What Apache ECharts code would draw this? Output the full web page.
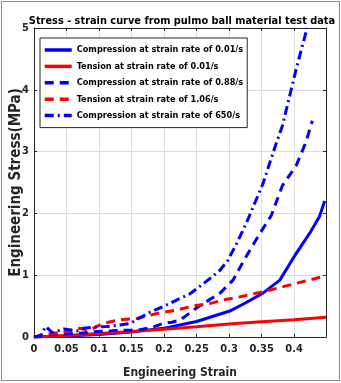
<!DOCTYPE html>
<html>
<head>
<meta charset="utf-8">
<script src="https://cdn.jsdelivr.net/npm/echarts@6/dist/echarts.min.js"></script>
<style>
  html, body { margin: 0; padding: 0; background: #fff; }
  #chart { position: absolute; left: 0; top: 0; width: 341px; height: 383px; }
  #frame { position: absolute; left: 1px; top: 1px; width: 337px; height: 378px; border: 1px solid #8c8c8c; pointer-events: none; }
</style>
</head>
<body>
<div id="chart"></div>
<div id="frame"></div>
<script>
const FONT = "'Liberation Sans Narrow', 'DejaVu Sans Condensed', 'Liberation Sans', sans-serif";

const seriesNames = [
  'Compression at strain rate of 0.01/s',
  'Tension at strain rate of 0.01/s',
  'Compression at strain rate of 0.88/s',
  'Tension at strain rate of 1.06/s',
  'Compression at strain rate of 650/s'
];

// compression, 0.01/s
const comp001Strain = [0, 0.05, 0.1, 0.15, 0.199, 0.25, 0.301, 0.325, 0.352, 0.378, 0.403, 0.424, 0.439, 0.447];
const comp001Stress = [0, 0.015, 0.04, 0.08, 0.14, 0.25, 0.42, 0.55, 0.71, 0.92, 1.35, 1.68, 1.95, 2.2];

// tension, 0.01/s
const tens001Strain = [0, 0.05, 0.1, 0.15, 0.2, 0.25, 0.3, 0.35, 0.4, 0.449];
const tens001Stress = [0, 0.025, 0.055, 0.09, 0.125, 0.165, 0.21, 0.245, 0.28, 0.32];

// compression, 0.88/s
const comp088Strain = [0, 0.02, 0.046, 0.07, 0.097, 0.12, 0.137, 0.158, 0.18, 0.199, 0.212, 0.224, 0.25, 0.286, 0.306, 0.326, 0.347, 0.365, 0.382, 0.403, 0.418, 0.428];
const comp088Stress = [0, 0.03, 0.05, 0.06, 0.09, 0.1, 0.11, 0.11, 0.15, 0.22, 0.24, 0.27, 0.47, 0.71, 0.92, 1.3, 1.67, 1.97, 2.45, 2.77, 3.15, 3.5];

// tension, 1.06/s
const tens106Strain = [0, 0.01, 0.03, 0.05, 0.07, 0.085, 0.106, 0.133, 0.158, 0.189, 0.221, 0.244, 0.27, 0.291, 0.317, 0.363, 0.4, 0.449];
const tens106Stress = [0, 0.03, 0.06, 0.09, 0.14, 0.11, 0.22, 0.28, 0.3, 0.38, 0.44, 0.5, 0.54, 0.6, 0.65, 0.76, 0.86, 0.99];

// compression, 650/s
const comp650Strain = [0, 0.01, 0.018, 0.028, 0.046, 0.066, 0.076, 0.092, 0.112, 0.128, 0.148, 0.161, 0.178, 0.2, 0.22, 0.24, 0.265, 0.286, 0.298, 0.311, 0.326, 0.352, 0.372, 0.382, 0.403, 0.42];
const comp650Stress = [0, 0.02, 0.17, 0.07, 0.13, 0.1, 0.14, 0.16, 0.17, 0.19, 0.22, 0.3, 0.4, 0.5, 0.6, 0.7, 0.9, 1.08, 1.24, 1.5, 1.83, 2.48, 3.12, 3.42, 4.33, 5.0];

const xTicks = [0, 0.05, 0.1, 0.15, 0.2, 0.25, 0.3, 0.35, 0.4];
const yTicks = [0, 1, 2, 3, 4, 5];

const pairs = (xs, ys) => xs.map((x, i) => [x, ys[i]]);

const makeLine = (name, data, color, type) => ({
  name: name,
  type: 'line',
  data: data,
  symbol: 'none',
  smooth: false,
  lineStyle: { color: color, width: 3, type: type },
  itemStyle: { color: color },
  emphasis: { disabled: true }
});

const labelStyle = { color: '#262626', fontFamily: FONT, fontWeight: 'bold', fontSize: 11 };

const chart = echarts.init(document.getElementById('chart'));

chart.setOption({
  animation: false,
  title: {
    text: 'Stress - strain curve from pulmo ball material test data',
    left: 177,
    textAlign: 'center',
    top: 11,
    textStyle: { color: '#000', fontFamily: FONT, fontWeight: 'bold', fontSize: 10.9 }
  },
  grid: { left: 34, right: 15, top: 28, bottom: 46, containLabel: false, outerBoundsMode: 'none' },
  legend: {
    orient: 'vertical',
    left: 40,
    top: 38,
    itemWidth: 27,
    itemHeight: 10,
    itemGap: 7.4,
    padding: [7.5, 4, 7.5, 3],
    backgroundColor: '#fff',
    borderColor: '#262626',
    borderWidth: 1,
    itemStyle: { opacity: 0 },
    lineStyle: { width: 3.5 },
    data: seriesNames,
    textStyle: { color: '#000', fontFamily: FONT, fontWeight: 'bold', fontSize: 9.1 }
  },
  xAxis: [{
    type: 'value',
    min: 0,
    max: 0.449,
    interval: 0.05,
    name: 'Engineering Strain',
    nameLocation: 'middle',
    nameGap: 30,
    nameMoveOverlap: false,
    nameTextStyle: { color: '#262626', fontFamily: FONT, fontWeight: 'bold', fontSize: 12 },
    axisLine: { onZero: false, lineStyle: { color: '#262626', width: 1 } },
    axisTick: { inside: true, length: 3, lineStyle: { color: '#262626' } },
    axisLabel: Object.assign({ margin: 7, showMaxLabel: false,
      formatter: v => xTicks.includes(+v.toFixed(2)) ? String(+v.toFixed(2)) : '' }, labelStyle),
    splitLine: { show: true, lineStyle: { color: '#dedede', width: 1 } }
  }, {
    type: 'value',
    position: 'top',
    min: 0,
    max: 0.449,
    interval: 0.05,
    axisLine: { onZero: false, lineStyle: { color: '#262626', width: 1 } },
    axisTick: { inside: true, length: 3, lineStyle: { color: '#262626' } },
    axisLabel: { show: false },
    splitLine: { show: false }
  }],
  yAxis: [{
    type: 'value',
    min: 0,
    max: 5,
    interval: 1,
    name: 'Engineering Stress(MPa)',
    nameLocation: 'middle',
    nameGap: 10,
    nameMoveOverlap: false,
    nameTextStyle: { color: '#262626', fontFamily: FONT, fontWeight: 'bold', fontSize: 15 },
    axisLine: { show: true, onZero: false, lineStyle: { color: '#262626', width: 1 } },
    axisTick: { show: true, inside: true, length: 3, lineStyle: { color: '#262626' } },
    axisLabel: Object.assign({ margin: 5,
      formatter: v => yTicks.includes(v) ? String(v) : '' }, labelStyle),
    splitLine: { show: true, lineStyle: { color: '#dedede', width: 1 } }
  }, {
    type: 'value',
    position: 'right',
    min: 0,
    max: 5,
    interval: 1,
    axisLine: { show: true, onZero: false, lineStyle: { color: '#262626', width: 1 } },
    axisTick: { show: true, inside: true, length: 3, lineStyle: { color: '#262626' } },
    axisLabel: { show: false },
    splitLine: { show: false }
  }],
  series: [
    makeLine(seriesNames[0], pairs(comp001Strain, comp001Stress), '#0000ff', 'solid'),
    makeLine(seriesNames[1], pairs(tens001Strain, tens001Stress), '#ff0000', 'solid'),
    makeLine(seriesNames[2], pairs(comp088Strain, comp088Stress), '#0000ff', [9, 6]),
    makeLine(seriesNames[3], pairs(tens106Strain, tens106Stress), '#ff0000', [9, 6]),
    makeLine(seriesNames[4], pairs(comp650Strain, comp650Stress), '#0000ff', [9, 4, 2, 4])
  ]
});
</script>
</body>
</html>
